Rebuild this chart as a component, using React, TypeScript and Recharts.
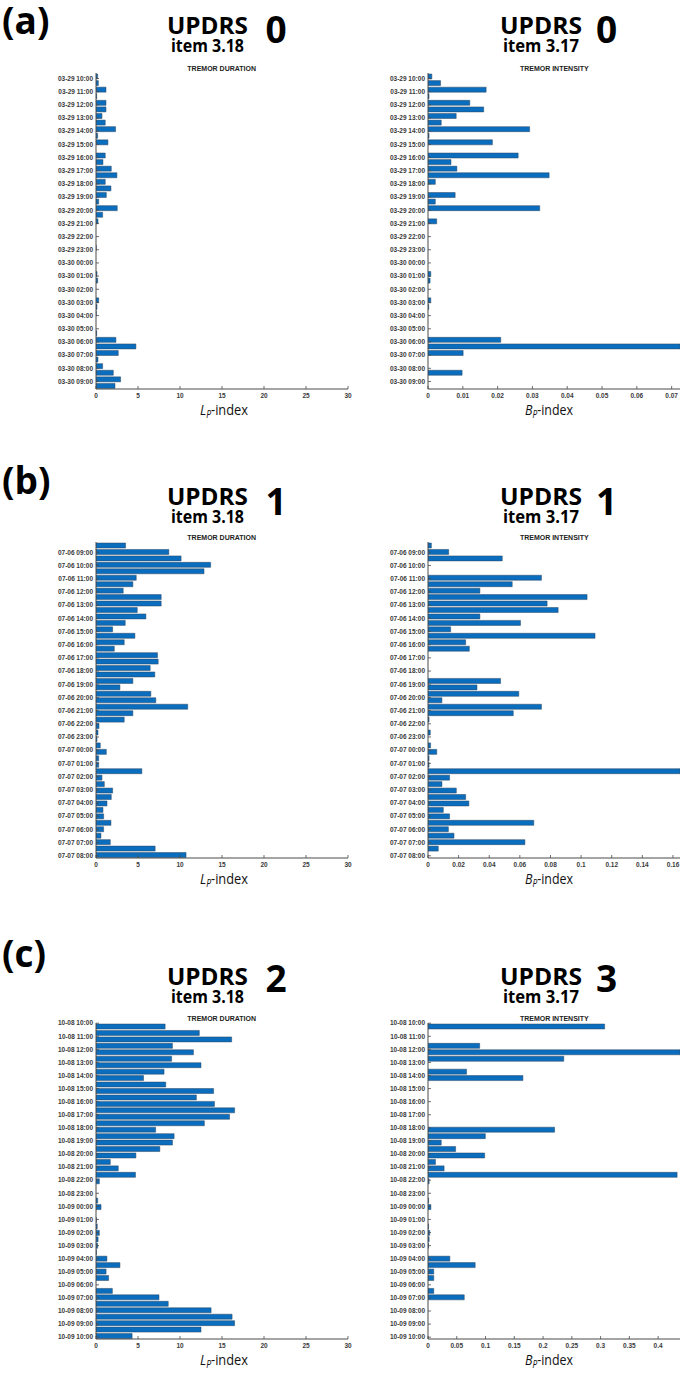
import React from 'react';
import { BarChart, Bar, XAxis, YAxis } from 'recharts';

// ---------- tick labels (hourly) ----------
const A_TICK_LABELS = [
  '03-29 10:00', '03-29 11:00', '03-29 12:00', '03-29 13:00', '03-29 14:00', '03-29 15:00',
  '03-29 16:00', '03-29 17:00', '03-29 18:00', '03-29 19:00', '03-29 20:00', '03-29 21:00',
  '03-29 22:00', '03-29 23:00', '03-30 00:00', '03-30 01:00', '03-30 02:00', '03-30 03:00',
  '03-30 04:00', '03-30 05:00', '03-30 06:00', '03-30 07:00', '03-30 08:00', '03-30 09:00',
];
const B_TICK_LABELS = [
  '07-06 09:00', '07-06 10:00', '07-06 11:00', '07-06 12:00', '07-06 13:00', '07-06 14:00',
  '07-06 15:00', '07-06 16:00', '07-06 17:00', '07-06 18:00', '07-06 19:00', '07-06 20:00',
  '07-06 21:00', '07-06 22:00', '07-06 23:00', '07-07 00:00', '07-07 01:00', '07-07 02:00',
  '07-07 03:00', '07-07 04:00', '07-07 05:00', '07-07 06:00', '07-07 07:00', '07-07 08:00',
];
const C_TICK_LABELS = [
  '10-08 10:00', '10-08 11:00', '10-08 12:00', '10-08 13:00', '10-08 14:00', '10-08 15:00',
  '10-08 16:00', '10-08 17:00', '10-08 18:00', '10-08 19:00', '10-08 20:00', '10-08 21:00',
  '10-08 22:00', '10-08 23:00', '10-09 00:00', '10-09 01:00', '10-09 02:00', '10-09 03:00',
  '10-09 04:00', '10-09 05:00', '10-09 06:00', '10-09 07:00', '10-09 08:00', '10-09 09:00',
  '10-09 10:00',
];

// ---------- categories (half-hour windows) ----------
function halfHourSlots(day1: string, day2: string, startHour: number, count: number): string[] {
  const out: string[] = [];
  for (let i = 0; i < count; i++) {
    const m = startHour * 60 + i * 30;
    const day = m >= 1440 ? day2 : day1;
    const mm = m % 1440;
    const h = Math.floor(mm / 60);
    out.push(`${day} ${String(h).padStart(2, '0')}:${mm % 60 === 0 ? '00' : '30'}`);
  }
  return out;
}
const A_SLOTS = halfHourSlots('03-29', '03-30', 10, 48);
const B_SLOTS = halfHourSlots('07-06', '07-07', 8, 49);
const C_SLOTS = halfHourSlots('10-08', '10-09', 10, 49);

// ---------- series values ----------
const A_LP = [
  0.2, 0.28, 1.19, 0.08, 1.19, 1.19, 0.71, 1.1, 2.33, 0.2, 1.42, 0, 1.1, 0.83, 1.82, 2.49,
  1.1, 1.78, 1.23, 0.32, 2.53, 0.79, 0.24, 0, 0, 0, 0.03, 0, 0, 0, 0.12, 0.2,
  0, 0, 0.32, 0.12, 0.03, 0, 0, 0.08, 2.37, 4.75, 2.65, 0.24, 0.79, 2.06, 2.93, 2.26,
];
const A_BP = [
  0.0011, 0.0036, 0.0167, 0.0003, 0.012, 0.016, 0.0081, 0.0038, 0.0292, 0.0003, 0.0185, 0,
  0.0259, 0.0066, 0.0083, 0.0348, 0.0021, 0, 0.0078, 0.0021, 0.0321, 0, 0.0025, 0,
  0, 0, 0, 0, 0, 0, 0.0008, 0.0006, 0, 0, 0.0008, 0.0002,
  0, 0, 0, 0, 0.0209, 0.0724, 0.0101, 0, 0, 0.0098, 0, 0,
];
const B_LP = [
  3.52, 8.67, 10.13, 13.65, 12.86, 4.79, 4.39, 3.24, 7.76, 7.76, 4.91, 5.94, 3.48, 1.98,
  4.63, 3.36, 2.18, 7.32, 7.4, 6.45, 7.0, 4.39, 2.85, 6.53, 7.12, 10.92, 4.39, 3.36,
  0.36, 0.24, 0.12, 0.51, 1.23, 0.32, 0.32, 5.46, 0.71, 0.99, 1.98, 1.82, 1.31, 0.83,
  0.91, 1.78, 0.91, 0.59, 1.7, 7.04, 10.72,
];
const B_BP = [
  0.0022, 0.0135, 0.0485, 0, 0, 0.0741, 0.055, 0.0339, 0.1039, 0.0778, 0.085, 0.0339,
  0.0604, 0.0148, 0.1091, 0.0246, 0.027, 0, 0, 0, 0, 0.0474, 0.032, 0.0593, 0.0091,
  0.0741, 0.0557, 0.0007, 0, 0.0015, 0, 0.0017, 0.0057, 0.0007, 0.0007, 0.1646, 0.0141,
  0.0091, 0.0185, 0.0246, 0.0267, 0.01, 0.0141, 0.0691, 0.0133, 0.017, 0.0633, 0.0067, 0,
];
const C_LP = [
  8.23, 12.3, 16.15, 9.1, 11.6, 9.0, 12.5, 8.1, 5.66, 8.3, 14.0, 11.95, 14.1, 16.5, 15.9,
  12.9, 7.1, 9.3, 9.1, 7.6, 4.75, 1.7, 2.65, 4.7, 0.4, 0, 0, 0.2, 0.6, 0, 0.05, 0.15,
  0.4, 0.25, 0.2, 0.05, 1.3, 2.85, 1.2, 1.5, 0, 1.95, 7.5, 8.6, 13.7, 16.2, 16.5, 12.5, 4.3,
];
const C_BP = [
  0.307, 0, 0, 0.0898, 0.438, 0.236, 0, 0.067, 0.165, 0, 0, 0, 0, 0, 0, 0, 0.22, 0.0997,
  0.023, 0.048, 0.0985, 0.013, 0.028, 0.433, 0.002, 0, 0, 0.001, 0.005, 0, 0, 0.001,
  0.003, 0.002, 0.001, 0, 0.038, 0.082, 0.01, 0.01, 0, 0.01, 0.063, 0, 0, 0, 0, 0, 0,
];

// ---------- axis ticks ----------
const LP_TICKS = [0, 5, 10, 15, 20, 25, 30];
const A_BP_TICKS = [0, 0.01, 0.02, 0.03, 0.04, 0.05, 0.06, 0.07];
const B_BP_TICKS = [0, 0.02, 0.04, 0.06, 0.08, 0.1, 0.12, 0.14, 0.16];
const C_BP_TICKS = [0, 0.05, 0.1, 0.15, 0.2, 0.25, 0.3, 0.35, 0.4];

const LP_DOMAIN: [number, number] = [0, 30];
const A_BP_DOMAIN: [number, number] = [0, 0.0724];
const B_BP_DOMAIN: [number, number] = [0, 0.1646];
const C_BP_DOMAIN: [number, number] = [0, 0.438];

// label-axis limits (in hourly-tick units)
const A_LAB_DOMAIN: [number, number] = [-0.417, 23.57];
const B_LAB_DOMAIN: [number, number] = [-0.78, 23.17];
const C_LAB_DOMAIN: [number, number] = [-0.015, 24.14];

// ---------- styling ----------
const AXIS_COLOR = '#4a4a4a';
const BAR_FILL = '#0b6dbd';
const BAR_STROKE = '#2c4660';
const TICK_STYLE: React.CSSProperties = {
  fontFamily: '"Liberation Sans", Arial, sans-serif',
  fontSize: 6.5,
  fontWeight: 700,
  fill: '#3a3a3a',
};
const HEAD_FONT = '"Open Sans", "Noto Sans", sans-serif';

const PLOT_W = 252;
const PLOT_H = 316;
const Y_AXIS_W = 60;
const M_TOP = 4;
const M_RIGHT = 4;
const X_AXIS_H = 14;

function fmt(v: number): string {
  return String(Number(v.toFixed(4)));
}

function makeLeftTick(labels: string[]) {
  return (props: any) => {
    const { x, y, payload } = props;
    const lab = labels[Math.round(payload.value)];
    return (
      <g>
        <line x1={x} x2={x + 3} y1={y} y2={y} stroke={AXIS_COLOR} strokeWidth={0.8} />
        <text x={x - 3} y={y} dy="0.35em" textAnchor="end" style={TICK_STYLE}>
          {lab}
        </text>
      </g>
    );
  };
}
const rightTick = (props: any) => {
  const { x, y } = props;
  return <line x1={x} x2={x - 3} y1={y} y2={y} stroke={AXIS_COLOR} strokeWidth={0.8} />;
};
const bottomTick = (props: any) => {
  const { x, y, payload } = props;
  return (
    <g>
      <line x1={x} x2={x} y1={y} y2={y - 3} stroke={AXIS_COLOR} strokeWidth={0.8} />
      <text x={x} y={y + 6.8} dy="0.35em" textAnchor="middle" style={TICK_STYLE}>
        {fmt(payload.value)}
      </text>
    </g>
  );
};
const topTick = (props: any) => {
  const { x, y } = props;
  return <line x1={x} x2={x} y1={y} y2={y + 3} stroke={AXIS_COLOR} strokeWidth={0.8} />;
};

type PanelProps = {
  plotLeft: number;
  plotTop: number;
  slots: string[];
  values: number[];
  domain: [number, number];
  ticks: number[];
  labels: string[];
  labDomain: [number, number];
};

function Panel({ plotLeft, plotTop, slots, values, domain, ticks, labels, labDomain }: PanelProps) {
  const data = slots.map((s, i) => ({ slot: s, v: values[i] }));
  const labIdx = labels.map((_, i) => i);
  const leftTick = makeLeftTick(labels);
  return (
    <div style={{ position: 'absolute', left: plotLeft - Y_AXIS_W, top: plotTop - M_TOP }}>
      <BarChart
        width={Y_AXIS_W + PLOT_W + M_RIGHT}
        height={M_TOP + PLOT_H + X_AXIS_H}
        data={data}
        layout="vertical"
        margin={{ top: M_TOP, right: M_RIGHT, bottom: 0, left: 0 }}
        barCategoryGap={0}
      >
        <XAxis
          xAxisId="val"
          type="number"
          orientation="bottom"
          domain={domain}
          ticks={ticks}
          allowDataOverflow
          height={X_AXIS_H}
          tickSize={0}
          tickMargin={0}
          tickLine={false}
          interval={0}
          axisLine={{ stroke: AXIS_COLOR, strokeWidth: 1 }}
          tick={bottomTick}
        />
        <XAxis
          xAxisId="top"
          type="number"
          orientation="top"
          domain={domain}
          ticks={ticks}
          allowDataOverflow
          height={0}
          tickSize={0}
          tickMargin={0}
          tickLine={false}
          interval={0}
          axisLine={{ stroke: '#6a6a6a', strokeWidth: 1 }}
          tick={topTick}
        />
        <YAxis
          yAxisId="lab"
          type="number"
          dataKey="v"
          orientation="left"
          domain={labDomain}
          ticks={labIdx}
          allowDataOverflow
          width={Y_AXIS_W}
          tickSize={0}
          tickMargin={0}
          tickLine={false}
          interval={0}
          axisLine={{ stroke: AXIS_COLOR, strokeWidth: 1 }}
          tick={leftTick}
        />
        <YAxis yAxisId="cat" type="category" dataKey="slot" width={0} hide />
        <YAxis
          yAxisId="rt"
          type="number"
          dataKey="v"
          orientation="right"
          domain={labDomain}
          ticks={labIdx}
          allowDataOverflow
          width={0}
          tickSize={0}
          tickMargin={0}
          tickLine={false}
          interval={0}
          axisLine={{ stroke: '#6a6a6a', strokeWidth: 1 }}
          tick={rightTick}
        />
        <Bar
          xAxisId="val"
          yAxisId="cat"
          dataKey="v"
          fill={BAR_FILL}
          stroke={BAR_STROKE}
          strokeWidth={0.5}
          barSize={5}
          isAnimationActive={false}
        />
      </BarChart>
    </div>
  );
}

const LEFT_X = 95.7;
const RIGHT_X = 428.3;
const ROW_TOPS = [73, 541.7, 1023.3];

type Header = {
  letter: string;
  letterBase: number;
  updrsBase: number;
  itemBase: number;
  bigBase: number;
  titleBase: number;
  scoreL: string;
  scoreR: string;
};
const HEADERS: Header[] = [
  { letter: '(a)', letterBase: 33.5, updrsBase: 34, itemBase: 52, bigBase: 43, titleBase: 70.5, scoreL: '0', scoreR: '0' },
  { letter: '(b)', letterBase: 494, updrsBase: 505, itemBase: 523, bigBase: 515, titleBase: 539.5, scoreL: '1', scoreR: '1' },
  { letter: '(c)', letterBase: 967, updrsBase: 985, itemBase: 1002.5, bigBase: 992, titleBase: 1020.8, scoreL: '2', scoreR: '3' },
];

function AxisName({ x, y, sym }: { x: number; y: number; sym: string }) {
  return (
    <text x={x} y={y} textLength={48} lengthAdjust="spacingAndGlyphs"
      style={{ fontFamily: HEAD_FONT, fontSize: 15, fill: '#111' }}>
      <tspan fontStyle="italic">{sym}</tspan>
      <tspan fontStyle="italic" fontSize={10} dy={3}>P</tspan>
      <tspan dy={-3}>-index</tspan>
    </text>
  );
}

function Overlay() {
  return (
    <svg width={685} height={1373} style={{ position: 'absolute', left: 0, top: 0 }}>
      {HEADERS.map((h, i) => {
        const axisY = ROW_TOPS[i] + PLOT_H;
        return (
          <g key={i}>
            <text x={2} y={h.letterBase} style={{ fontFamily: HEAD_FONT, fontSize: 37, fontWeight: 700, fill: '#000' }}>
              {h.letter}
            </text>
            {/* left header */}
            <text x={167} y={h.updrsBase} textLength={81} lengthAdjust="spacingAndGlyphs"
              style={{ fontFamily: HEAD_FONT, fontSize: 23, fontWeight: 700, fill: '#000' }}>UPDRS</text>
            <text x={171} y={h.itemBase} textLength={73} lengthAdjust="spacingAndGlyphs"
              style={{ fontFamily: HEAD_FONT, fontSize: 17, fontWeight: 700, fill: '#000' }}>item 3.18</text>
            <text x={276} y={h.bigBase} textAnchor="middle"
              style={{ fontFamily: HEAD_FONT, fontSize: 37, fontWeight: 700, fill: '#000' }}>{h.scoreL}</text>
            {/* right header */}
            <text x={500} y={h.updrsBase} textLength={82} lengthAdjust="spacingAndGlyphs"
              style={{ fontFamily: HEAD_FONT, fontSize: 23, fontWeight: 700, fill: '#000' }}>UPDRS</text>
            <text x={503} y={h.itemBase} textLength={76} lengthAdjust="spacingAndGlyphs"
              style={{ fontFamily: HEAD_FONT, fontSize: 17, fontWeight: 700, fill: '#000' }}>item 3.17</text>
            <text x={606.5} y={h.bigBase} textAnchor="middle"
              style={{ fontFamily: HEAD_FONT, fontSize: 37, fontWeight: 700, fill: '#000' }}>{h.scoreR}</text>
            {/* plot titles */}
            <text x={LEFT_X + PLOT_W / 2} y={h.titleBase} textAnchor="middle"
              style={{ fontFamily: '"Liberation Sans", Arial, sans-serif', fontSize: 7, fontWeight: 700, fill: '#222' }}>
              TREMOR DURATION
            </text>
            <text x={RIGHT_X + PLOT_W / 2} y={h.titleBase} textAnchor="middle"
              style={{ fontFamily: '"Liberation Sans", Arial, sans-serif', fontSize: 7, fontWeight: 700, fill: '#222' }}>
              TREMOR INTENSITY
            </text>
            <AxisName x={200} y={axisY + 26} sym="L" />
            <AxisName x={525} y={axisY + 26} sym="B" />
          </g>
        );
      })}
    </svg>
  );
}

export default function App() {
  return (
    <div style={{ position: 'absolute', left: 0, top: 0, width: 685, height: 1373, background: '#fff', overflow: 'hidden' }}>
      <Overlay />
      <Panel plotLeft={LEFT_X} plotTop={ROW_TOPS[0]} slots={A_SLOTS} values={A_LP} domain={LP_DOMAIN} ticks={LP_TICKS} labels={A_TICK_LABELS} labDomain={A_LAB_DOMAIN} />
      <Panel plotLeft={RIGHT_X} plotTop={ROW_TOPS[0]} slots={A_SLOTS} values={A_BP} domain={A_BP_DOMAIN} ticks={A_BP_TICKS} labels={A_TICK_LABELS} labDomain={A_LAB_DOMAIN} />
      <Panel plotLeft={LEFT_X} plotTop={ROW_TOPS[1]} slots={B_SLOTS} values={B_LP} domain={LP_DOMAIN} ticks={LP_TICKS} labels={B_TICK_LABELS} labDomain={B_LAB_DOMAIN} />
      <Panel plotLeft={RIGHT_X} plotTop={ROW_TOPS[1]} slots={B_SLOTS} values={B_BP} domain={B_BP_DOMAIN} ticks={B_BP_TICKS} labels={B_TICK_LABELS} labDomain={B_LAB_DOMAIN} />
      <Panel plotLeft={LEFT_X} plotTop={ROW_TOPS[2]} slots={C_SLOTS} values={C_LP} domain={LP_DOMAIN} ticks={LP_TICKS} labels={C_TICK_LABELS} labDomain={C_LAB_DOMAIN} />
      <Panel plotLeft={RIGHT_X} plotTop={ROW_TOPS[2]} slots={C_SLOTS} values={C_BP} domain={C_BP_DOMAIN} ticks={C_BP_TICKS} labels={C_TICK_LABELS} labDomain={C_LAB_DOMAIN} />
    </div>
  );
}
